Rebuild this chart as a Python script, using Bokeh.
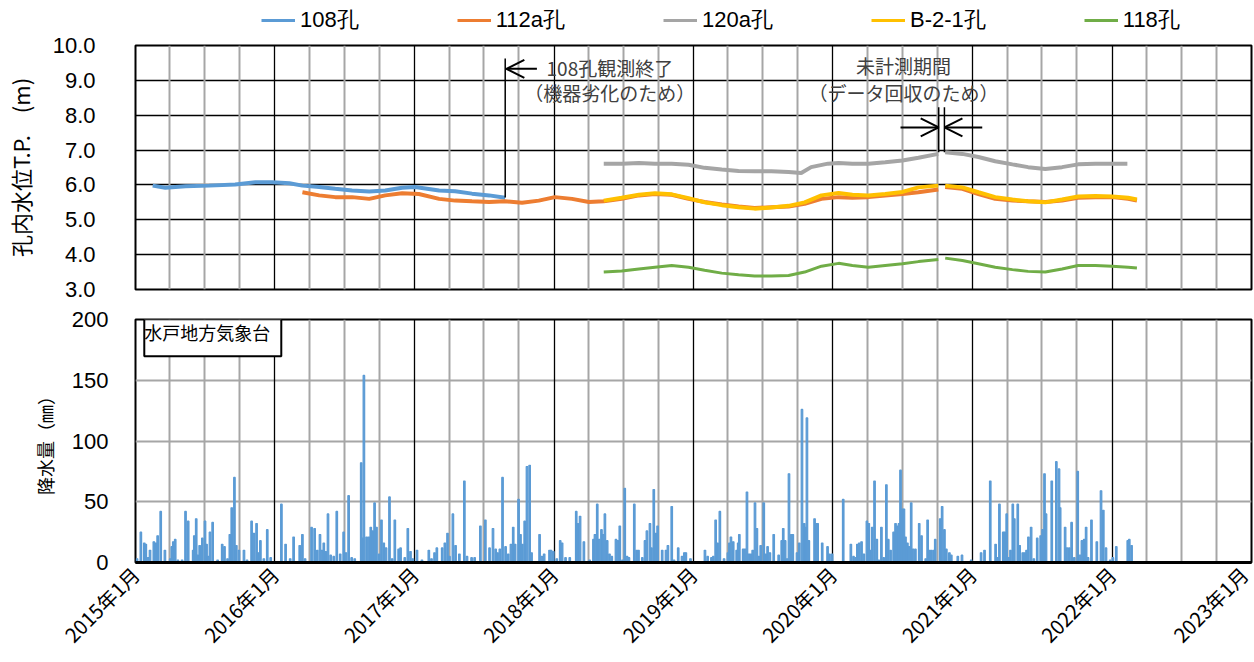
import math
import pandas as pd
from bokeh.plotting import figure
from bokeh.models import (Range1d, FixedTicker, Grid, Legend, LegendItem, Label,
                          Arrow, OpenHead, ColumnDataSource, PrintfTickFormatter)
from bokeh.layouts import column
from bokeh.embed import file_html
from bokeh.resources import INLINE

NAN = float("nan")
FONT = "Noto Sans CJK JP"
NUM_FONT = "Liberation Sans"

# ---------------- data ----------------
s108_dates = ["2015-02-15", "2015-03-20", "2015-05-12", "2015-07-13", "2015-09-19", "2015-11-11",
              "2015-12-25", "2016-02-08", "2016-03-13", "2016-04-26", "2016-06-07", "2016-07-21",
              "2016-09-04", "2016-10-16", "2016-11-29", "2017-01-02", "2017-03-06", "2017-04-17",
              "2017-05-31", "2017-07-15", "2017-08-26"]
s108_vals = [5.98, 5.92, 5.96, 5.98, 6.01, 6.08, 6.08, 6.05, 5.98, 5.94, 5.89, 5.84,
             5.81, 5.84, 5.92, 5.94, 5.84, 5.82, 5.75, 5.70, 5.63]

s112_dates = ["2016-03-13", "2016-04-26", "2016-06-07", "2016-07-21", "2016-09-04", "2016-10-16",
              "2016-11-29", "2017-01-12", "2017-03-06", "2017-04-17", "2017-05-31", "2017-07-15",
              "2017-08-25", "2017-10-09", "2017-11-22", "2018-01-03", "2018-02-17", "2018-04-02",
              "2018-05-11", "2018-06-27", "2018-08-11", "2018-09-22", "2018-11-05", "2018-12-19",
              "2019-01-30", "2019-03-16", "2019-04-29", "2019-06-10", "2019-07-24", "2019-09-07",
              "2019-10-19", "2019-12-02", "2020-01-16", "2020-02-21", "2020-04-03", "2020-05-17",
              "2020-07-01", "2020-08-12", "2020-10-03", "2020-10-12", "2020-10-21", "2020-12-05",
              "2021-01-16", "2021-03-01", "2021-04-15", "2021-05-26", "2021-07-10", "2021-08-23",
              "2021-10-04", "2021-11-18", "2022-01-01", "2022-02-12", "2022-03-07"]
s112_vals = [5.79, 5.70, 5.65, 5.65, 5.60, 5.70, 5.76, 5.74, 5.60, 5.55, 5.53, 5.51,
             5.53, 5.49, 5.55, 5.65, 5.60, 5.51, 5.53, 5.60, 5.70, 5.74, 5.72, 5.60,
             5.51, 5.44, 5.38, 5.34, 5.36, 5.38, 5.46, 5.60, 5.65, 5.63, 5.65, 5.70,
             5.74, 5.79, 5.87, NAN, 5.94, 5.89, 5.74, 5.60, 5.55, 5.53, 5.51, 5.55,
             5.63, 5.65, 5.65, 5.60, 5.55]

s120_dates = ["2018-05-11", "2018-06-27", "2018-08-11", "2018-09-22", "2018-11-05", "2018-12-19",
              "2019-01-30", "2019-03-16", "2019-04-29", "2019-06-10", "2019-07-24", "2019-09-07",
              "2019-10-10", "2019-11-05", "2019-12-19", "2020-01-16", "2020-02-21", "2020-04-03",
              "2020-05-17", "2020-07-01", "2020-08-12", "2020-10-03", "2020-10-12", "2020-10-21",
              "2020-12-05", "2021-01-16", "2021-03-01", "2021-04-15", "2021-05-26", "2021-07-10",
              "2021-08-23", "2021-10-04", "2021-11-18", "2022-01-01", "2022-02-10"]
s120_vals = [6.61, 6.61, 6.63, 6.61, 6.61, 6.58, 6.49, 6.44, 6.40, 6.39, 6.39, 6.37,
             6.34, 6.51, 6.61, 6.63, 6.61, 6.61, 6.65, 6.70, 6.78, 6.89, NAN, 6.94,
             6.89, 6.80, 6.68, 6.59, 6.51, 6.46, 6.51, 6.59, 6.61, 6.61, 6.61]

sb21_dates = ["2018-05-11", "2018-06-27", "2018-08-11", "2018-09-22", "2018-11-05", "2018-12-19",
              "2019-01-30", "2019-03-16", "2019-04-29", "2019-06-10", "2019-07-24", "2019-09-07",
              "2019-10-19", "2019-12-02", "2020-01-16", "2020-02-21", "2020-04-03", "2020-05-17",
              "2020-07-01", "2020-08-12", "2020-10-03", "2020-10-12", "2020-10-21", "2020-12-05",
              "2021-01-16", "2021-03-01", "2021-04-15", "2021-05-26", "2021-07-10", "2021-08-23",
              "2021-10-04", "2021-11-18", "2022-01-01", "2022-02-12", "2022-03-07"]
sb21_vals = [5.55, 5.63, 5.72, 5.76, 5.73, 5.62, 5.50, 5.42, 5.36, 5.32, 5.35, 5.40,
             5.50, 5.70, 5.77, 5.72, 5.70, 5.74, 5.80, 5.93, 5.98, NAN, 5.98, 5.93,
             5.79, 5.65, 5.58, 5.53, 5.50, 5.58, 5.67, 5.68, 5.67, 5.63, 5.58]

s118_dates = sb21_dates
s118_vals = [3.50, 3.53, 3.59, 3.64, 3.69, 3.64, 3.55, 3.47, 3.42, 3.39, 3.39, 3.40,
             3.50, 3.67, 3.75, 3.69, 3.64, 3.69, 3.74, 3.80, 3.86, NAN, 3.90, 3.83,
             3.74, 3.64, 3.57, 3.52, 3.50, 3.59, 3.69, 3.69, 3.67, 3.64, 3.62]

rain_dates = [
    "2015-01-05", "2015-01-15", "2015-01-24", "2015-01-28", "2015-02-03", "2015-02-08", "2015-02-18",
    "2015-02-23", "2015-02-28", "2015-03-08", "2015-03-19", "2015-04-02", "2015-04-06", "2015-04-10",
    "2015-04-15", "2015-04-22", "2015-05-03", "2015-05-12", "2015-05-19", "2015-06-01", "2015-06-04",
    "2015-06-09", "2015-06-13", "2015-06-18", "2015-06-25", "2015-07-02", "2015-07-06", "2015-07-10",
    "2015-07-15", "2015-07-22", "2015-08-04", "2015-08-16", "2015-08-22", "2015-08-30", "2015-09-05",
    "2015-09-10", "2015-09-17", "2015-09-22", "2015-09-29", "2015-10-12", "2015-10-20", "2015-11-01",
    "2015-11-07", "2015-11-14", "2015-11-19", "2015-11-24", "2015-12-03", "2015-12-12", "2015-12-21",
    "2016-01-18", "2016-01-29", "2016-02-10", "2016-02-19", "2016-03-06", "2016-03-13", "2016-03-20",
    "2016-04-06", "2016-04-14", "2016-04-21", "2016-04-28", "2016-05-03", "2016-05-08", "2016-05-13",
    "2016-05-19", "2016-05-26", "2016-06-03", "2016-06-11", "2016-06-20", "2016-06-29", "2016-07-05",
    "2016-07-12", "2016-07-20", "2016-07-28", "2016-08-14", "2016-08-17", "2016-08-21", "2016-08-28",
    "2016-09-03", "2016-09-08", "2016-09-13", "2016-09-18", "2016-09-23", "2016-09-30", "2016-10-06",
    "2016-10-12", "2016-10-18", "2016-10-27", "2016-11-03", "2016-11-10", "2016-11-20", "2016-11-25",
    "2016-12-06", "2016-12-14", "2016-12-21", "2016-12-27",
    "2017-01-07", "2017-01-20", "2017-02-07", "2017-02-14", "2017-02-22", "2017-02-28", "2017-03-14",
    "2017-03-21", "2017-03-28", "2017-04-02", "2017-04-11", "2017-04-18", "2017-04-28", "2017-05-11",
    "2017-05-18", "2017-05-30", "2017-06-07", "2017-06-22", "2017-07-05", "2017-07-16", "2017-07-25",
    "2017-08-01", "2017-08-06", "2017-08-12", "2017-08-19", "2017-08-27", "2017-09-03", "2017-09-10",
    "2017-09-16", "2017-09-21", "2017-09-30", "2017-10-05", "2017-10-10", "2017-10-16", "2017-10-22",
    "2017-10-29", "2017-11-03", "2017-11-24", "2017-11-30", "2017-12-06", "2017-12-20", "2017-12-24",
    "2017-12-30",
    "2018-01-08", "2018-01-17", "2018-01-22", "2018-01-31", "2018-02-11", "2018-02-28", "2018-03-04",
    "2018-03-10", "2018-03-20", "2018-04-04", "2018-04-14", "2018-04-18", "2018-04-24", "2018-04-29",
    "2018-05-05", "2018-05-09", "2018-05-14", "2018-05-20", "2018-05-26", "2018-06-01", "2018-06-12",
    "2018-06-17", "2018-06-22", "2018-06-29", "2018-07-05", "2018-07-11", "2018-07-16", "2018-07-30",
    "2018-08-05", "2018-08-10", "2018-08-20", "2018-08-27", "2018-09-01", "2018-09-09", "2018-09-13",
    "2018-09-19", "2018-09-24", "2018-09-29", "2018-10-11", "2018-10-21", "2018-10-26", "2018-11-05",
    "2018-11-11", "2018-11-22", "2018-12-02", "2018-12-08", "2018-12-12", "2018-12-24",
    "2019-01-31", "2019-02-07", "2019-02-17", "2019-02-22", "2019-02-28", "2019-03-05", "2019-03-11",
    "2019-03-22", "2019-04-01", "2019-04-05", "2019-04-09", "2019-04-15", "2019-04-24", "2019-04-28",
    "2019-05-01", "2019-05-11", "2019-05-16", "2019-05-21", "2019-05-26", "2019-05-31", "2019-06-05",
    "2019-06-11", "2019-06-16", "2019-06-21", "2019-06-26", "2019-07-04", "2019-07-09", "2019-07-14",
    "2019-07-20", "2019-07-30", "2019-08-12", "2019-08-20", "2019-08-24", "2019-08-29", "2019-09-03",
    "2019-09-08", "2019-09-14", "2019-09-18", "2019-09-29", "2019-10-05", "2019-10-12", "2019-10-18",
    "2019-10-21", "2019-10-25", "2019-10-30", "2019-11-14", "2019-11-18", "2019-11-22", "2019-12-04",
    "2019-12-18", "2019-12-23", "2019-12-30",
    "2020-01-28", "2020-02-17", "2020-02-24", "2020-03-01", "2020-03-05", "2020-03-10", "2020-03-16",
    "2020-03-22", "2020-03-30", "2020-04-04", "2020-04-08", "2020-04-13", "2020-04-19", "2020-04-25",
    "2020-04-30", "2020-05-07", "2020-05-13", "2020-05-20", "2020-05-25", "2020-05-31", "2020-06-08",
    "2020-06-13", "2020-06-18", "2020-06-22", "2020-06-26", "2020-07-01", "2020-07-05", "2020-07-09",
    "2020-07-14", "2020-07-18", "2020-07-24", "2020-07-29", "2020-08-04", "2020-08-14", "2020-08-20",
    "2020-08-31", "2020-09-05", "2020-09-10", "2020-09-15", "2020-09-21", "2020-09-25", "2020-10-08",
    "2020-10-13", "2020-10-19", "2020-10-24", "2020-11-01", "2020-11-06", "2020-11-23", "2020-12-04",
    "2020-12-28",
    "2021-01-23", "2021-02-01", "2021-02-16", "2021-03-02", "2021-03-07", "2021-03-12", "2021-03-22",
    "2021-03-26", "2021-03-31", "2021-04-05", "2021-04-10", "2021-04-16", "2021-04-20", "2021-04-29",
    "2021-05-04", "2021-05-12", "2021-05-17", "2021-05-22", "2021-05-27", "2021-06-03", "2021-06-10",
    "2021-06-19", "2021-06-28", "2021-07-03", "2021-07-08", "2021-07-12", "2021-07-27", "2021-08-08",
    "2021-08-15", "2021-08-18", "2021-08-31", "2021-09-05", "2021-09-11", "2021-09-17", "2021-09-24",
    "2021-10-03", "2021-10-09", "2021-10-14", "2021-10-20", "2021-10-25", "2021-10-30", "2021-11-08",
    "2021-11-22", "2021-12-03", "2021-12-09", "2021-12-16", "2021-12-27",
    "2022-01-03", "2022-01-12", "2022-02-11", "2022-02-15", "2022-02-21"]
rain_mm = [
    3, 25, 16, 15, 4, 10, 17, 16, 22, 42, 10, 3, 13, 17,
    19, 2, 2, 42, 34, 10, 22, 36, 6, 14, 20, 34, 15, 5,
    25, 33, 2, 15, 13, 3, 23, 45, 70, 14, 10, 10, 2, 34,
    24, 32, 8, 18, 3, 27, 4,
    48, 15, 3, 21, 14, 23, 3, 29, 28, 10, 23, 10, 16, 9,
    40, 6, 5, 42, 7, 25, 8, 55, 4, 3, 82, 20, 154, 21,
    21, 29, 26, 49, 29, 7, 35, 16, 12, 54, 3, 35, 11, 12,
    4, 28, 9, 3,
    10, 2, 10, 3, 8, 12, 12, 16, 24, 5, 40, 14, 7, 67,
    5, 4, 4, 30, 35, 12, 28, 11, 8, 11, 70, 13, 7, 15,
    29, 15, 52, 23, 15, 34, 79, 80, 8, 23, 5, 7, 10, 10,
    9,
    3, 18, 16, 4, 4, 42, 32, 38, 17, 2, 19, 23, 48, 19,
    27, 23, 40, 18, 7, 5, 19, 18, 30, 2, 61, 5, 4, 48,
    10, 10, 4, 18, 26, 32, 12, 60, 24, 30, 10, 10, 14, 46,
    2, 12, 5, 8, 8, 3,
    10, 5, 4, 5, 35, 16, 42, 3, 8, 16, 21, 17, 10, 16,
    23, 11, 11, 58, 7, 7, 10, 49, 28, 5, 14, 49, 7, 13,
    8, 23, 6, 18, 28, 18, 3, 73, 23, 23, 8, 16, 126, 32,
    29, 119, 18, 36, 32, 32, 16, 13, 7, 7,
    52, 15, 5, 4, 15, 16, 17, 7, 34, 32, 10, 29, 67, 19,
    2, 29, 4, 64, 19, 10, 25, 32, 30, 32, 76, 44, 44, 21,
    16, 13, 49, 11, 11, 32, 22, 3, 35, 10, 10, 10, 19, 36,
    46, 27, 11, 8, 6, 5, 6, 2,
    8, 10, 67, 15, 4, 48, 25, 25, 40, 4, 10, 48, 36, 48,
    14, 8, 8, 10, 21, 29, 3, 20, 22, 27, 73, 40, 67, 83,
    77, 45, 29, 12, 12, 33, 4, 75, 6, 18, 19, 29, 4, 35,
    17, 59, 43, 12, 2,
    4, 13, 18, 19, 14]

series_names = ["108孔", "112a孔", "120a孔", "B-2-1孔", "118孔"]
series_colors = ["#5B9BD5", "#ED7D31", "#A5A5A5", "#FFC000", "#70AD47"]
rain_color = "#5B9BD5"

x_tick_dates = ["2015-01-01", "2016-01-01", "2017-01-01", "2018-01-01", "2019-01-01",
                "2020-01-01", "2021-01-01", "2022-01-01", "2023-01-01"]
x_tick_labels = ["2015年1月", "2016年1月", "2017年1月", "2018年1月", "2019年1月",
                 "2020年1月", "2021年1月", "2022年1月", "2023年1月"]
level_ticks = [3, 4, 5, 6, 7, 8, 9, 10]
rain_ticks = [0, 50, 100, 150, 200]


def ms(d):
    return pd.Timestamp(d).value / 1e6


year_ms = [ms(d) for d in x_tick_dates]
quarter_ms = [ms(f"{y}-{m:02d}-01") for y in range(2015, 2023) for m in (4, 7, 10)]

# ---------------- layout constants ----------------
W = 1254
LEFT = 133
RIGHT = 3
GRAY = "#A6A6A6"
X0, X1 = ms("2015-01-01"), ms("2023-01-01")
LEG_H = 33
TOP_B, BOT_B = 12, 13
TOP_H = TOP_B + 244 + BOT_B
P2_TOP = LEG_H + TOP_H
BOT_H = 662 - P2_TOP
BOT_TOP_B = 319 - P2_TOP
BOT_BOT_B = BOT_H - BOT_TOP_B - 243

# ---------------- top figure ----------------
p1 = figure(width=W, height=TOP_H, x_range=Range1d(X0, X1), y_range=Range1d(3, 10),
            x_axis_type="datetime", output_backend="svg", toolbar_location=None,
            min_border_left=LEFT, min_border_right=RIGHT, min_border_top=TOP_B,
            min_border_bottom=BOT_B)
p1.xaxis.visible = False
p1.xgrid.visible = False
p1.yaxis.ticker = FixedTicker(ticks=level_ticks)
p1.yaxis.formatter = PrintfTickFormatter(format="%.1f")
p1.yaxis.axis_line_color = None
p1.yaxis.major_tick_line_color = None
p1.yaxis.minor_tick_line_color = None
p1.yaxis.major_label_standoff = 34
p1.yaxis.major_label_text_font = NUM_FONT
p1.yaxis.major_label_text_font_size = "22px"
p1.yaxis.major_label_text_color = "black"
p1.yaxis.axis_label = "孔内水位T.P.　(m)"
p1.yaxis.axis_label_text_font = FONT
p1.yaxis.axis_label_text_font_size = "22px"
p1.yaxis.axis_label_text_font_style = "normal"
p1.yaxis.axis_label_text_color = "black"
p1.yaxis.axis_label_standoff = 14
p1.ygrid.grid_line_color = "black"
p1.ygrid.grid_line_width = 1.5
p1.ygrid.grid_line_alpha = 1
p1.outline_line_color = "black"
p1.outline_line_width = 2
p1.outline_line_alpha = 1


def add_xgrids(p):
    p.add_layout(Grid(dimension=0, ticker=FixedTicker(ticks=quarter_ms),
                      grid_line_color=GRAY, grid_line_width=2))
    p.add_layout(Grid(dimension=0, ticker=FixedTicker(ticks=year_ms),
                      grid_line_color="black", grid_line_width=1.3))


add_xgrids(p1)

all_series = [(s108_dates, s108_vals), (s112_dates, s112_vals), (s120_dates, s120_vals),
              (sb21_dates, sb21_vals), (s118_dates, s118_vals)]
widths = [4, 4, 4, 4, 3]
for (dts, vals), col, lw in zip(all_series, series_colors, widths):
    src = ColumnDataSource(dict(x=pd.to_datetime(dts), y=vals))
    p1.line("x", "y", source=src, line_color=col, line_width=lw)

# annotations (top)
ANN_COLOR = "#404040"
ANN_SIZE = "19px"
for txt, xd, yv in [("108孔観測終了", "2018-05-27", 9.37), ("（機器劣化のため）", "2018-05-27", 8.66),
                    ("未計測期間", "2020-07-04", 9.43), ("（データ回収のため）", "2020-07-04", 8.65)]:
    p1.add_layout(Label(x=ms(xd), y=yv, text=txt, text_align="center", text_baseline="middle",
                        text_font=FONT, text_font_size=ANN_SIZE, text_color=ANN_COLOR))

p1.add_layout(Arrow(x_start=ms("2017-08-26"), y_start=5.64, x_end=ms("2017-08-26"), y_end=9.63,
                    end=None, line_color="black", line_width=1.5))
p1.add_layout(Arrow(x_start=ms("2017-11-17"), y_start=9.33, x_end=ms("2017-08-29"), y_end=9.33,
                    end=OpenHead(size=18, line_width=2, line_color="black"),
                    line_color="black", line_width=2))
for d in ["2020-10-04", "2020-10-19"]:
    p1.add_layout(Arrow(x_start=ms(d), y_start=6.94, x_end=ms(d), y_end=8.23,
                        end=None, line_color="black", line_width=1.5))
p1.add_layout(Arrow(x_start=ms("2020-06-26"), y_start=7.65, x_end=ms("2020-10-04"), y_end=7.65,
                    end=OpenHead(size=18, line_width=2, line_color="black"),
                    line_color="black", line_width=2))
p1.add_layout(Arrow(x_start=ms("2021-01-26"), y_start=7.65, x_end=ms("2020-10-19"), y_end=7.65,
                    end=OpenHead(size=18, line_width=2, line_color="black"),
                    line_color="black", line_width=2))

# ---------------- legend strip ----------------
pl = figure(width=W, height=LEG_H, x_range=Range1d(0, 1), y_range=Range1d(0, 1),
            x_axis_location=None, y_axis_location=None,
            output_backend="svg", toolbar_location=None,
            min_border_left=0, min_border_right=0, min_border_top=0, min_border_bottom=0)
pl.grid.visible = False
pl.outline_line_color = None
leg_renderers = []
for col in series_colors:
    leg_renderers.append(pl.line(x=[NAN], y=[NAN], line_color=col, line_width=3))
legend = Legend(items=[LegendItem(label=n, renderers=[r]) for n, r in zip(series_names, leg_renderers)],
                orientation="horizontal", location=(126, -2), spacing=98, glyph_width=34,
                glyph_height=20, label_height=20,
                label_standoff=5, label_text_font=NUM_FONT, label_text_font_size="22px",
                label_text_color="black", border_line_color=None, background_fill_alpha=0,
                padding=0, margin=0)
pl.add_layout(legend)

# ---------------- bottom figure ----------------
p2 = figure(width=W, height=BOT_H, x_range=p1.x_range, y_range=Range1d(0, 200),
            x_axis_type="datetime", output_backend="svg", toolbar_location=None,
            min_border_left=LEFT, min_border_right=RIGHT, min_border_top=BOT_TOP_B,
            min_border_bottom=BOT_BOT_B)
p2.xgrid.visible = False
add_xgrids(p2)
p2.yaxis.ticker = FixedTicker(ticks=rain_ticks)
p2.yaxis.axis_line_color = None
p2.yaxis.major_tick_line_color = None
p2.yaxis.minor_tick_line_color = None
p2.yaxis.major_label_standoff = 21
p2.yaxis.major_label_text_font = NUM_FONT
p2.yaxis.major_label_text_font_size = "22px"
p2.yaxis.major_label_text_color = "black"
p2.yaxis.axis_label = "降水量（㎜）"
p2.yaxis.axis_label_text_font = FONT
p2.yaxis.axis_label_text_font_size = "18px"
p2.yaxis.axis_label_text_font_style = "normal"
p2.yaxis.axis_label_text_color = "black"
p2.yaxis.axis_label_standoff = 11
p2.ygrid.grid_line_color = GRAY
p2.ygrid.grid_line_width = 2
p2.outline_line_color = "black"
p2.outline_line_width = 2
p2.outline_line_alpha = 1

p2.xaxis.ticker = FixedTicker(ticks=year_ms)
p2.xaxis.major_label_overrides = {t: lab for t, lab in zip(year_ms, x_tick_labels)}
p2.xaxis.major_label_orientation = math.pi / 4
p2.xaxis.major_label_text_font = FONT
p2.xaxis.major_label_text_font_size = "20px"
p2.xaxis.major_label_text_color = "black"
p2.xaxis.major_tick_line_color = None
p2.xaxis.minor_tick_line_color = None
p2.xaxis.major_label_standoff = 2
p2.xaxis.axis_line_color = "black"
p2.xaxis.axis_line_width = 3

rsrc = ColumnDataSource(dict(x=pd.to_datetime(rain_dates), top=rain_mm))
p2.vbar(x="x", top="top", bottom=0, width=4 * 86400000, source=rsrc,
        fill_color=rain_color, line_color=rain_color, line_width=1.2)

p2.add_layout(Label(x=ms("2015-01-24"), y=185, text="水戸地方気象台", text_align="left",
                    text_baseline="middle", text_font=FONT, text_font_size="18px",
                    text_color="black", border_line_color="black", border_line_width=2,
                    background_fill_color="white", padding=(0, 11, 0, 11)))

layout = column(pl, p1, p2, spacing=0)
open("out.html", "w").write(file_html(layout, INLINE))
